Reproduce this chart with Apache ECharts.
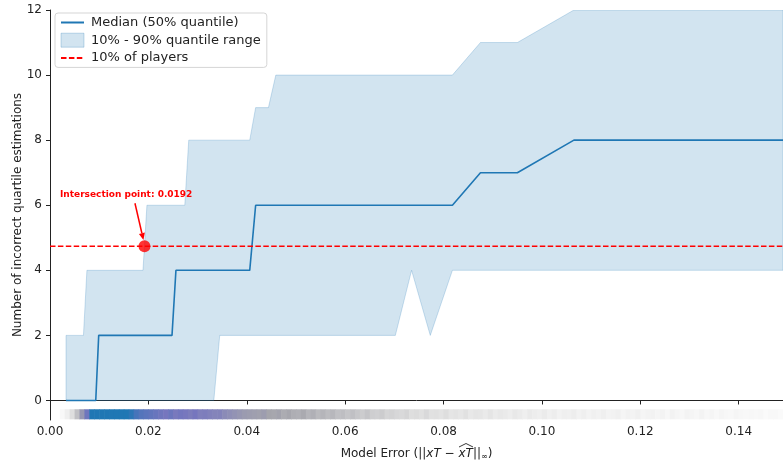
<!DOCTYPE html>
<html>
<head>
<meta charset="utf-8">
<script src="https://cdn.jsdelivr.net/npm/echarts@6/dist/echarts.min.js"></script>
<style>
html,body{margin:0;padding:0;background:#fff;}
#chart{width:783px;height:461px;}
</style>
</head>
<body>
<div id="chart"></div>
<script>
// ---------------- DATA ----------------
const xTicks = [0, 0.02, 0.04, 0.06, 0.08, 0.10, 0.12, 0.14];
const yTicks = [0, 2, 4, 6, 8, 10, 12];

// Median (50% quantile) line: [model error, incorrect estimations]
const medianLine = [
  [0.00325, 0], [0.0093, 0], [0.0099, 2], [0.0248, 2], [0.0256, 4],
  [0.0406, 4], [0.0418, 6], [0.0818, 6], [0.0875, 7], [0.0950, 7],
  [0.1065, 8], [0.149, 8]
];
// 90% quantile (upper edge of band)
const upperBand = [
  [0.00325, 2], [0.0068, 2], [0.0075, 4], [0.0189, 4], [0.0197, 6],
  [0.0274, 6], [0.0282, 8], [0.0406, 8], [0.0418, 9], [0.0444, 9],
  [0.0459, 10], [0.0818, 10], [0.0875, 11], [0.0950, 11], [0.1065, 12],
  [0.149, 12]
];
// 10% quantile (lower edge of band)
const lowerBand = [
  [0.00325, 0], [0.0333, 0], [0.0345, 2], [0.0702, 2], [0.0735, 4],
  [0.0773, 2], [0.0818, 4], [0.149, 4]
];
// 10% of players threshold
const thresholdValue = 4.74;
const intersection = [0.0192, 4.74];
const annotationText = 'Intersection point: 0.0192';

// Rug density of model errors, bins of 0.001 starting at 0.002 (0 = none, 1 = densest)
const rugStart = 0.002;
const rugStep = 0.001;
const rugDensity = [
  0.04, 0.10, 0.20, 0.33, 0.52, 0.74, 0.95, 1.00, 0.98, 1.00,   // 0.002 - 0.011
  1.00, 0.99, 1.00, 0.97, 0.92, 0.86, 0.82, 0.80, 0.78, 0.76,   // 0.012 - 0.021
  0.74, 0.72, 0.75, 0.70, 0.73, 0.71, 0.68, 0.72, 0.66, 0.67,   // 0.022 - 0.031
  0.64, 0.62, 0.63, 0.58, 0.56, 0.54, 0.52, 0.50, 0.49, 0.48,   // 0.032 - 0.041
  0.47, 0.49, 0.45, 0.44, 0.46, 0.42, 0.44, 0.41, 0.40, 0.43,   // 0.042 - 0.051
  0.38, 0.40, 0.36, 0.38, 0.35, 0.37, 0.33, 0.34, 0.31, 0.33,   // 0.052 - 0.061
  0.30, 0.28, 0.31, 0.27, 0.26, 0.28, 0.24, 0.25, 0.23, 0.22,   // 0.062 - 0.071
  0.24, 0.20, 0.21, 0.19, 0.22, 0.18, 0.19, 0.17, 0.20, 0.16,   // 0.072 - 0.081
  0.17, 0.15, 0.18, 0.14, 0.16, 0.15, 0.13, 0.16, 0.12, 0.14,   // 0.082 - 0.091
  0.13, 0.11, 0.14, 0.12, 0.10, 0.13, 0.11, 0.10, 0.12, 0.09,   // 0.092 - 0.101
  0.11, 0.08, 0.10, 0.09, 0.11, 0.08, 0.10, 0.07, 0.09, 0.08,   // 0.102 - 0.111
  0.10, 0.07, 0.08, 0.09, 0.06, 0.08, 0.07, 0.09, 0.06, 0.07,   // 0.112 - 0.121
  0.08, 0.06, 0.07, 0.05, 0.08, 0.06, 0.05, 0.07, 0.06, 0.05,   // 0.122 - 0.131
  0.07, 0.05, 0.06, 0.04, 0.06, 0.05, 0.04, 0.06, 0.05, 0.04,   // 0.132 - 0.141
  0.05, 0.04, 0.05, 0.03, 0.04, 0.04, 0.03                      // 0.142 - 0.148
];
const rugRange = [-0.27, -0.58];

// ---------------- STYLING / BUILD ----------------
const FONT = 'DejaVu Sans';
const FS = 12;
const BLUE = '#1f77b4';
const RED = '#ff0000';

const rugColorStops = [
  [0.00, [255, 255, 255]],
  [0.20, [222, 222, 222]],
  [0.45, [165, 165, 172]],
  [0.60, [135, 135, 185]],
  [0.72, [118, 118, 190]],
  [0.86, [70, 116, 186]],
  [0.95, [31, 119, 180]],
  [1.00, [31, 119, 180]]
];
function rugColor(d) {
  for (let i = 1; i < rugColorStops.length; i++) {
    const [p1, c1] = rugColorStops[i];
    const [p0, c0] = rugColorStops[i - 1];
    if (d <= p1) {
      const t = (d - p0) / (p1 - p0);
      const c = c0.map((v, k) => Math.round(v + (c1[k] - v) * t));
      return 'rgb(' + c.join(',') + ')';
    }
  }
  return 'rgb(31,119,180)';
}
const rugData = rugDensity.map((d, i) => [rugStart + rugStep * i + rugStep / 2, d]);

const chart = echarts.init(document.getElementById('chart'), null, {renderer: 'canvas'});

const option = {
  animation: false,
  backgroundColor: '#fff',
  textStyle: {fontFamily: FONT},
  grid: {left: 50, right: 0, top: 10, bottom: 41, containLabel: false, outerBoundsMode: 'none'},
  legend: {
    orient: 'vertical',
    left: 55, top: 13,
    padding: [3, 6, 3, 5],
    itemGap: 3.7,
    itemWidth: 23, itemHeight: 14,
    borderColor: '#d5d5d5', borderWidth: 1, borderRadius: 3,
    backgroundColor: 'rgba(255,255,255,0.85)',
    textStyle: {fontFamily: FONT, fontSize: 13, color: '#222', padding: [0, 0, 0, 2]},
    data: [
      {name: 'Median (50% quantile)', itemStyle: {opacity: 0}},
      {name: '10% - 90% quantile range', icon: 'rect', itemStyle: {color: 'rgba(31,119,180,0.2)', borderColor: 'rgba(31,119,180,0.25)', borderWidth: 1}},
      {name: '10% of players', itemStyle: {opacity: 0}}
    ]
  },
  xAxis: {
    type: 'value', min: 0, max: 0.149,
    splitLine: {show: false},
    axisLine: {show: true, lineStyle: {color: '#222', width: 1}},
    axisTick: {show: true, length: 4, lineStyle: {color: '#222'}, customValues: xTicks},
    axisLabel: {customValues: xTicks, fontFamily: FONT, fontSize: FS, color: '#222', margin: 6,
      formatter: v => v.toFixed(2)},
    name: '{a|Model Error (||}{i|xT}{a| − }{i|xT}{a|||}{s|∞}{a|)}',
    nameLocation: 'middle', nameGap: 27,
    nameTextStyle: {
      fontFamily: FONT, fontSize: FS, color: '#222',
      rich: {
        a: {fontFamily: FONT, fontSize: FS, color: '#222'},
        i: {fontFamily: FONT, fontSize: FS, fontStyle: 'italic', color: '#222'},
        s: {fontFamily: FONT, fontSize: 8, color: '#222', padding: [6, 0, 0, 0]}
      }
    }
  },
  yAxis: {
    type: 'value', min: -0.6, max: 12,
    splitLine: {show: false},
    axisLine: {show: true, lineStyle: {color: '#222', width: 1}},
    axisTick: {show: true, length: 4, lineStyle: {color: '#222'}, customValues: yTicks},
    axisLabel: {customValues: yTicks, fontFamily: FONT, fontSize: FS, color: '#222', margin: 8},
    name: 'Number of incorrect quartile estimations',
    nameLocation: 'middle', nameGap: 26.5, nameRotate: 90, nameMoveOverlap: false,
    nameTextStyle: {fontFamily: FONT, fontSize: FS, color: '#222'}
  },
  graphic: [
    {type: 'polyline', silent: true, z: 10,
      shape: {points: [[459, 447], [466, 443.5], [473, 447]]},
      style: {stroke: '#222', lineWidth: 0.9, fill: null}}
  ],
  series: [
    {
      name: 'rug', type: 'custom', z: 1, silent: true, clip: true,
      data: rugData,
      renderItem: function (params, api) {
        const x = api.value(0), d = api.value(1);
        const p0 = api.coord([x - rugStep / 2, rugRange[0]]);
        const p1 = api.coord([x + rugStep / 2, rugRange[1]]);
        return {type: 'rect',
          shape: {x: p0[0], y: p0[1], width: p1[0] - p0[0] + 0.6, height: p1[1] - p0[1]},
          style: {fill: rugColor(d)}};
      }
    },
    {
      name: '10% - 90% quantile range', type: 'custom', z: 2, silent: true, clip: true,
      itemStyle: {color: 'rgba(31,119,180,0.2)'},
      data: [[upperBand[0][0], upperBand[0][1]]],
      renderItem: function (params, api) {
        const pts = upperBand.map(p => api.coord(p));
        for (let i = lowerBand.length - 1; i >= 0; i--) pts.push(api.coord(lowerBand[i]));
        return {type: 'polygon', shape: {points: pts},
          style: {fill: 'rgba(31,119,180,0.2)', stroke: 'rgba(31,119,180,0.22)', lineWidth: 1}};
      }
    },
    {
      name: 'Median (50% quantile)', type: 'line', z: 3, symbol: 'none', silent: true,
      data: medianLine,
      lineStyle: {color: BLUE, width: 1.6},
      itemStyle: {color: BLUE}
    },
    {
      name: '10% of players', type: 'line', z: 4, symbol: 'none', silent: true,
      data: [[0, thresholdValue], [0.149, thresholdValue]],
      lineStyle: {color: RED, width: 1.5, type: [5.5, 2.4]},
      itemStyle: {color: RED}
    },
    {
      name: 'intersection', type: 'scatter', z: 5, silent: true,
      data: [intersection], symbolSize: 12,
      itemStyle: {color: RED}
    },
    {
      name: 'annotation', type: 'custom', z: 6, silent: true, clip: false,
      data: [intersection],
      renderItem: function (params, api) {
        const t = api.coord([0.00203, 6.31]);
        const a0 = api.coord([0.01727, 6.06]);
        const a1 = api.coord([0.01900, 4.93]);
        const ang = Math.atan2(a1[1] - a0[1], a1[0] - a0[0]);
        const hl = 7, hw = 3;
        const bx = a1[0] - hl * Math.cos(ang), by = a1[1] - hl * Math.sin(ang);
        const nx = -Math.sin(ang) * hw, ny = Math.cos(ang) * hw;
        return {type: 'group', children: [
          {type: 'text', x: t[0], y: t[1],
            style: {text: annotationText, fill: RED, font: 'bold 9px "DejaVu Sans"',
              align: 'left', verticalAlign: 'middle'}},
          {type: 'line', shape: {x1: a0[0], y1: a0[1], x2: bx, y2: by},
            style: {stroke: RED, lineWidth: 1.5}},
          {type: 'polygon', shape: {points: [[a1[0], a1[1]], [bx + nx, by + ny], [bx - nx, by - ny]]},
            style: {fill: RED}}
        ]};
      }
    }
  ]
};
chart.setOption(option);
</script>
</body>
</html>
